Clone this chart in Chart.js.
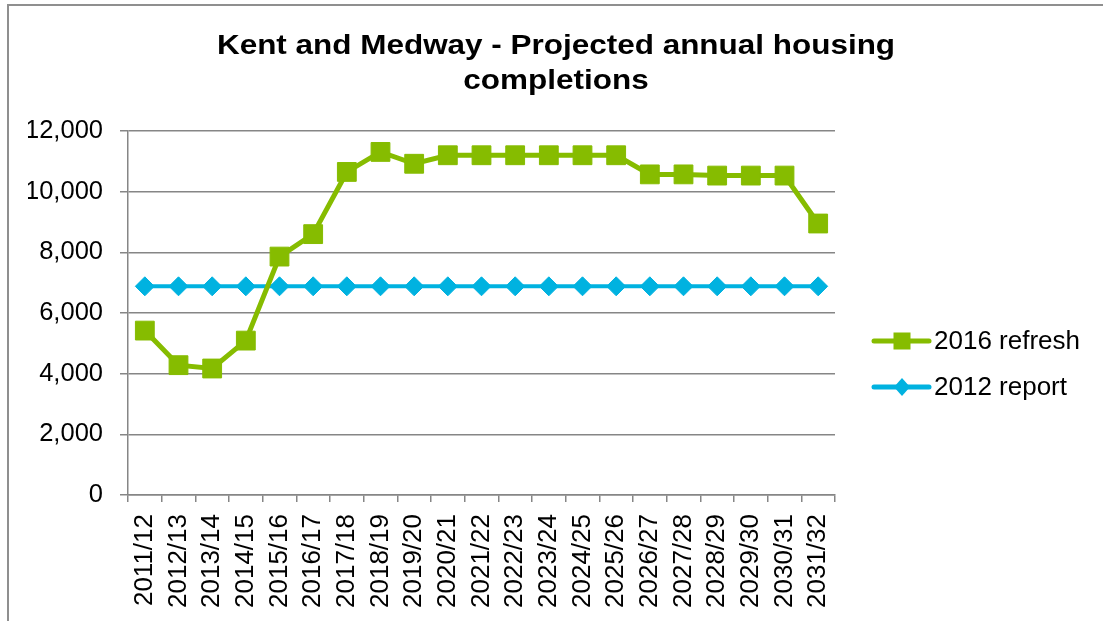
<!DOCTYPE html>
<html>
<head>
<meta charset="utf-8">
<script src="https://cdn.jsdelivr.net/npm/chart.js@4/dist/chart.umd.min.js"></script>
<style>
  html, body { margin: 0; padding: 0; background: #fff; overflow: hidden; }
  #wrap { position: relative; width: 1103px; height: 621px; }
  #frame { position: absolute; left: 7px; top: 4px; width: 1200px; height: 700px;
           border-left: 2px solid #8f8f8f; border-top: 2px solid #8f8f8f; }
  canvas { position: absolute; left: 0; top: 0; }
</style>
</head>
<body>
<div id="wrap">
  <div id="frame"></div>
  <canvas id="chart" width="1103" height="621"></canvas>
</div>
<script>
const categories = [
  "2011/12", "2012/13", "2013/14", "2014/15", "2015/16", "2016/17", "2017/18",
  "2018/19", "2019/20", "2020/21", "2021/22", "2022/23", "2023/24", "2024/25",
  "2025/26", "2026/27", "2027/28", "2028/29", "2029/30", "2030/31", "2031/32"
]
const refresh2016 = [
  5420, 4280, 4170, 5090, 7860, 8600, 10650,
  11310, 10920, 11200, 11200, 11200, 11200, 11200,
  11200, 10570, 10570, 10530, 10530, 10530, 8950
]
const report2012 = [
  6880, 6880, 6880, 6880, 6880, 6880, 6880,
  6880, 6880, 6880, 6880, 6880, 6880, 6880,
  6880, 6880, 6880, 6880, 6880, 6880, 6880
]
const yMin = 0
const yMax = 12000
const yStep = 2000

const titleLines = ["Kent and Medway - Projected annual housing", "completions"]
const seriesNames = ["2016 refresh", "2012 report"]

const GREEN = "#86bc00"
const BLUE = "#00b2e0"
const GRID = "#868686"
const FONT = '"Liberation Sans", Arial, sans-serif'

Chart.defaults.font.family = FONT
Chart.defaults.color = "#000"

// title is drawn by hand so it can be stretched a little like the original
const titlePlugin = {
  id: "stretchedTitle",
  afterDraw(chart) {
    const ctx = chart.ctx
    ctx.save()
    ctx.fillStyle = "#000"
    ctx.font = "bold 27px " + FONT
    ctx.textAlign = "center"
    ctx.textBaseline = "alphabetic"
    const baselines = [54, 89]
    titleLines.forEach((line, i) => {
      ctx.save()
      ctx.translate(556, baselines[i])
      ctx.scale(1.165, 1)
      ctx.fillText(line, 0, 0)
      ctx.restore()
    })
    ctx.restore()
  }
}

// legend at the right: line sample with the marker in the middle
const sideLegend = {
  id: "sideLegend",
  afterDraw(chart) {
    const ctx = chart.ctx
    const x0 = chart.chartArea.right + 39
    const rows = [341, 387]
    chart.data.datasets.forEach((ds, i) => {
      const y = rows[i]
      ctx.save()
      ctx.strokeStyle = ds.borderColor
      ctx.lineWidth = 5
      ctx.lineCap = "round"
      ctx.beginPath()
      ctx.moveTo(x0, y)
      ctx.lineTo(x0 + 55, y)
      ctx.stroke()
      ctx.fillStyle = ds.borderColor
      const cx = x0 + 28
      if (ds.pointStyle === "rect") {
        ctx.fillRect(cx - 8.5, y - 8.5, 17, 17)
      } else {
        ctx.beginPath()
        ctx.moveTo(cx, y - 9)
        ctx.lineTo(cx + 8, y)
        ctx.lineTo(cx, y + 9)
        ctx.lineTo(cx - 8, y)
        ctx.closePath()
        ctx.fill()
      }
      ctx.fillStyle = "#000"
      ctx.font = "26px " + FONT
      ctx.textBaseline = "middle"
      ctx.fillText(ds.label, x0 + 60, y + 1)
      ctx.restore()
    })
  }
}

new Chart(document.getElementById("chart"), {
  type: "line",
  data: {
    labels: categories,
    datasets: [
      {
        label: seriesNames[0],
        data: refresh2016,
        borderColor: GREEN,
        backgroundColor: GREEN,
        borderWidth: 5,
        pointStyle: "rect",
        pointRadius: 13.3,
        pointBorderWidth: 1,
        pointBorderColor: GREEN,
        pointBackgroundColor: GREEN,
        tension: 0
      },
      {
        label: seriesNames[1],
        data: report2012,
        borderColor: BLUE,
        backgroundColor: BLUE,
        borderWidth: 4,
        pointStyle: "rectRot",
        pointRadius: 9.5,
        pointBorderWidth: 1,
        pointBorderColor: BLUE,
        pointBackgroundColor: BLUE,
        tension: 0
      }
    ]
  },
  options: {
    responsive: false,
    animation: false,
    layout: { padding: { left: 28, right: 268, top: 131, bottom: 0 } },
    plugins: {
      legend: { display: false },
      tooltip: { enabled: false },
      title: { display: false }
    },
    scales: {
      x: {
        offset: true,
        grid: { offset: true, drawOnChartArea: false, drawTicks: true, tickLength: 7, color: GRID, lineWidth: 1.5 },
        border: { color: GRID, width: 1.5 },
        ticks: { minRotation: 90, maxRotation: 90, autoSkip: false, padding: 12, color: "#000", font: { size: 26 } },
        afterFit(scale) { scale.height = 126 }
      },
      y: {
        min: yMin,
        max: yMax,
        grid: { color: GRID, lineWidth: 1.5, tickLength: 8 },
        border: { color: GRID, width: 1.5 },
        ticks: {
          stepSize: yStep,
          padding: 17,
          color: "#000",
          font: { size: 25.5 },
          callback: v => v.toLocaleString("en-GB")
        },
        afterFit(scale) { scale.width = 100 }
      }
    }
  },
  plugins: [titlePlugin, sideLegend]
})
</script>
</body>
</html>
